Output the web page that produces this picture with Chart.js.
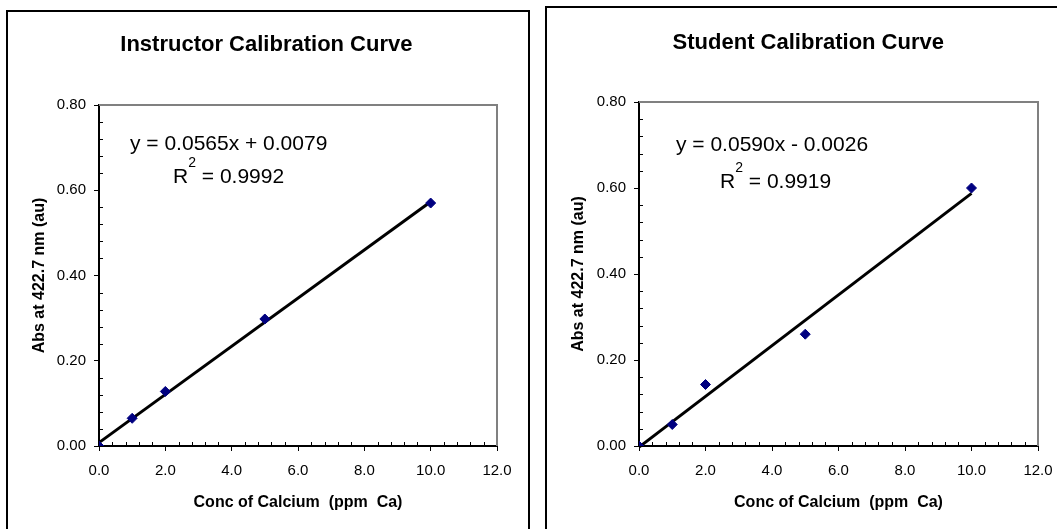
<!DOCTYPE html>
<html><head><meta charset="utf-8">
<script src="https://cdn.jsdelivr.net/npm/chart.js@4/dist/chart.umd.min.js"></script>
<style>
html,body{margin:0;padding:0;background:#fff;width:1057px;height:529px;overflow:hidden;position:relative;}
.box{position:absolute;border:2px solid #000;box-sizing:border-box;}
#b1{left:6px;top:10px;width:524px;height:600px;}
#b2{left:545px;top:6px;width:600px;height:600px;}
canvas{position:absolute;top:0;}
#c1{left:0}
#c2{left:537px}
</style></head><body>
<div class="box" id="b1"></div><div class="box" id="b2"></div>
<canvas id="c1" width="537" height="529"></canvas>
<canvas id="c2" width="540" height="529"></canvas>
<script>
// ---- data ----
const concentrations = [0, 1, 2, 5, 10];
const instructorAbs = [0, 0.065, 0.128, 0.298, 0.570];
const studentAbs = [0, 0.050, 0.143, 0.260, 0.600];
const trendX = [0, 10];
const instructorFit = [0.0565, 0.0079];   // slope, intercept
const studentFit = [0.0590, -0.0026];
const instructorEq = ['y = 0.0565x + 0.0079', '0.9992'];
const studentEq = ['y = 0.0590x - 0.0026', '0.9919'];
const chartTitles = ['Instructor Calibration Curve', 'Student Calibration Curve'];
const xTitle = 'Conc of Calcium  (ppm  Ca)';
const yTitle = 'Abs at 422.7 nm (au)';
const xRange = [0, 12, 2];
const yRange = [0, 0.8, 0.2];

const FONT = "'Liberation Sans', Arial, Helvetica, sans-serif";
Chart.defaults.font.family = FONT;
Chart.defaults.color = '#000';

const decorPlugin = {
  id: 'decor',
  afterDatasetsDraw(chart, args, opts) {
    const ctx = chart.ctx, a = chart.chartArea, xs = chart.scales.x, ys = chart.scales.y;
    ctx.save();
    // gray plot border top/right
    ctx.strokeStyle = '#808080'; ctx.lineWidth = 2;
    ctx.beginPath();
    ctx.moveTo(a.left, a.top); ctx.lineTo(a.right, a.top); ctx.lineTo(a.right, a.bottom);
    ctx.stroke();
    // minor ticks inside
    ctx.strokeStyle = '#000'; ctx.lineWidth = 1;
    ctx.beginPath();
    for (let i = 1; i < 30; i++) {
      if (i % 5 === 0) continue;
      const px = Math.round(xs.getPixelForValue(i * 0.4)) + 0.5;
      ctx.moveTo(px, a.bottom); ctx.lineTo(px, a.bottom - 4);
    }
    for (let i = 1; i < 20; i++) {
      if (i % 5 === 0) continue;
      const py = Math.round(ys.getPixelForValue(i * 0.04)) + 0.5;
      ctx.moveTo(a.left, py); ctx.lineTo(a.left + 4, py);
    }
    ctx.stroke();
    ctx.restore();
  },
  afterDraw(chart, args, opts) {
    const ctx = chart.ctx, a = chart.chartArea;
    ctx.save();
    ctx.fillStyle = '#000';
    ctx.textBaseline = 'alphabetic';
    // chart title
    ctx.textAlign = 'center';
    ctx.font = 'bold 22px ' + FONT;
    ctx.fillText(opts.title, opts.tx, opts.ty);
    // trendline equation
    ctx.textAlign = 'left';
    ctx.font = '21px ' + FONT;
    ctx.fillText(opts.eq[0], a.left + opts.x1, a.top + opts.y1);
    let x = a.left + opts.x2, y = a.top + opts.y2;
    ctx.fillText('R', x, y);
    x += ctx.measureText('R').width;
    ctx.font = '14px ' + FONT;
    ctx.fillText('2', x, y - 16);
    x += ctx.measureText('2').width;
    ctx.font = '21px ' + FONT;
    ctx.fillText(' = ' + opts.eq[1], x, y);
    ctx.restore();
  }
};

function makeChart(id, title, yData, fit, eq, g) {
  const pts = concentrations.map((c, i) => ({x: c, y: yData[i]}));
  const trend = trendX.map(v => ({x: v, y: fit[0] * v + fit[1]}));
  return new Chart(document.getElementById(id), {
    type: 'scatter',
    data: {
      datasets: [
        {data: pts, pointStyle: 'rectRot', pointRadius: 5, backgroundColor: '#000080', borderColor: '#000080', borderWidth: 1, order: 1},
        {type: 'line', data: trend, showLine: true, pointRadius: 0, borderColor: '#000', borderWidth: 3, order: 2, clip: 2}
      ]
    },
    options: {
      responsive: false, animation: false,
      layout: {padding: {left: 0, right: g.padRight, top: g.padTop, bottom: 0}},
      plugins: {
        legend: {display: false}, tooltip: {enabled: false}, title: {display: false},
        decor: {title: title, tx: g.tx, ty: g.ty, eq: eq, x1: g.x1, y1: g.y1, x2: g.x2, y2: g.y2}
      },
      scales: {
        x: {
          type: 'linear', min: xRange[0], max: xRange[1],
          afterFit: s => { s.height = g.xHeight; },
          ticks: {stepSize: xRange[2], font: {size: 15}, color: '#000', padding: 10.5, maxRotation: 0, callback: v => Number(v).toFixed(1)},
          grid: {drawOnChartArea: false, drawTicks: true, tickLength: 5, color: '#000', lineWidth: 1},
          border: {display: true, color: '#000', width: 2},
          title: {display: true, text: xTitle, color: '#000', font: {size: 16, weight: 'bold'}, padding: {top: 4, bottom: 16.4}}
        },
        y: {
          type: 'linear', min: yRange[0], max: yRange[1],
          afterFit: s => { s.width = g.yWidth; },
          ticks: {stepSize: yRange[2], font: {size: 15}, color: '#000', padding: 8, callback: v => Number(v).toFixed(2)},
          grid: {drawOnChartArea: false, drawTicks: true, tickLength: 5, color: '#000', lineWidth: 1},
          border: {display: true, color: '#000', width: 2},
          title: {display: true, text: yTitle, color: '#000', font: {size: 16, weight: 'bold'}, padding: {top: g.yTitlePad, bottom: 0}}
        }
      }
    },
    plugins: [decorPlugin]
  });
}

makeChart('c1', chartTitles[0], instructorAbs, instructorFit, instructorEq,
  {padRight: 40, padTop: 105, tx: 266.4, ty: 51, xHeight: 83, yWidth: 99, yTitlePad: 30.4, x1: 31, y1: 45, x2: 74, y2: 78});
makeChart('c2', chartTitles[1], studentAbs, studentFit, studentEq,
  {padRight: 39, padTop: 102, tx: 271.3, ty: 49, xHeight: 83, yWidth: 102, yTitlePad: 32.4, x1: 37, y1: 49, x2: 81, y2: 86});
</script>
</body></html>
